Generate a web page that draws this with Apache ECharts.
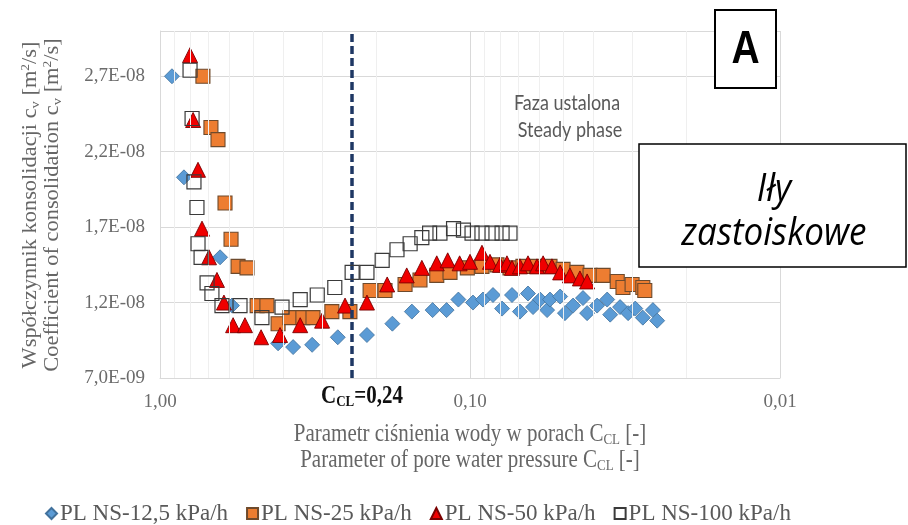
<!DOCTYPE html>
<html>
<head>
<meta charset="utf-8">
<script src="https://cdn.jsdelivr.net/npm/echarts@6/dist/echarts.min.js"></script>
<style>html,body{margin:0;padding:0;background:#fff}#c{width:908px;height:525px}</style>
</head>
<body>
<div id="c"></div>
<script>
// Series: [C_CL, cv]
const seriesNames = ['PL NS-12,5 kPa/h', 'PL NS-25 kPa/h', 'PL NS-50 kPa/h', 'PL NS-100 kPa/h'];

const ns125 = [[0.915,2.70e-8],[0.837,2.03e-8],[0.640,1.50e-8],[0.586,1.18e-8],[0.416,9.3e-9],[0.372,9.05e-9],[0.323,9.2e-9],[0.267,9.7e-9],[0.215,9.85e-9],[0.178,1.06e-8],[0.154,1.14e-8],[0.132,1.15e-8],[0.119,1.15e-8],[0.109,1.22e-8],[0.0978,1.20e-8],[0.0908,1.22e-8],[0.0843,1.25e-8],[0.0788,1.16e-8],[0.0732,1.25e-8],[0.0690,1.14e-8],[0.0650,1.26e-8],[0.0626,1.17e-8],[0.0594,1.22e-8],[0.0564,1.15e-8],[0.0552,1.22e-8],[0.0512,1.24e-8],[0.0494,1.13e-8],[0.0465,1.18e-8],[0.0432,1.23e-8],[0.0419,1.13e-8],[0.0389,1.18e-8],[0.0361,1.22e-8],[0.0353,1.12e-8],[0.0328,1.17e-8],[0.0309,1.13e-8],[0.0293,1.16e-8],[0.0277,1.10e-8],[0.0257,1.15e-8],[0.0249,1.08e-8]];

const ns25 = [[0.727,2.70e-8],[0.685,2.36e-8],[0.650,2.28e-8],[0.617,1.86e-8],[0.590,1.62e-8],[0.560,1.44e-8],[0.524,1.43e-8],[0.486,1.18e-8],[0.452,1.18e-8],[0.416,1.06e-8],[0.381,1.10e-8],[0.346,1.10e-8],[0.321,1.10e-8],[0.279,1.14e-8],[0.244,1.14e-8],[0.210,1.28e-8],[0.188,1.28e-8],[0.162,1.32e-8],[0.145,1.35e-8],[0.128,1.38e-8],[0.116,1.40e-8],[0.102,1.43e-8],[0.0915,1.44e-8],[0.0818,1.45e-8],[0.0743,1.43e-8],[0.0675,1.44e-8],[0.0608,1.44e-8],[0.0552,1.44e-8],[0.0501,1.42e-8],[0.0452,1.40e-8],[0.0410,1.38e-8],[0.0372,1.38e-8],[0.0335,1.34e-8],[0.0321,1.30e-8],[0.0300,1.32e-8],[0.0277,1.30e-8],[0.0273,1.28e-8]];

const ns50 = [[0.800,2.84e-8],[0.782,2.41e-8],[0.754,2.08e-8],[0.732,1.69e-8],[0.695,1.50e-8],[0.655,1.35e-8],[0.622,1.20e-8],[0.581,1.05e-8],[0.532,1.05e-8],[0.472,9.7e-9],[0.410,9.85e-9],[0.353,1.05e-8],[0.300,1.08e-8],[0.253,1.18e-8],[0.215,1.20e-8],[0.185,1.32e-8],[0.160,1.38e-8],[0.143,1.43e-8],[0.128,1.46e-8],[0.118,1.48e-8],[0.108,1.46e-8],[0.100,1.47e-8],[0.0915,1.53e-8],[0.0862,1.47e-8],[0.0800,1.45e-8],[0.0760,1.46e-8],[0.0732,1.43e-8],[0.0690,1.44e-8],[0.0650,1.46e-8],[0.0608,1.44e-8],[0.0581,1.46e-8],[0.0544,1.44e-8],[0.0512,1.40e-8],[0.0476,1.38e-8],[0.0442,1.36e-8],[0.0419,1.34e-8]];

const ns100 = [[0.800,2.74e-8],[0.788,2.42e-8],[0.777,2.00e-8],[0.760,1.83e-8],[0.754,1.59e-8],[0.737,1.50e-8],[0.705,1.33e-8],[0.680,1.26e-8],[0.631,1.18e-8],[0.552,1.18e-8],[0.469,1.10e-8],[0.404,1.17e-8],[0.353,1.22e-8],[0.311,1.25e-8],[0.273,1.30e-8],[0.240,1.40e-8],[0.215,1.40e-8],[0.192,1.48e-8],[0.172,1.55e-8],[0.156,1.59e-8],[0.143,1.63e-8],[0.135,1.66e-8],[0.125,1.66e-8],[0.113,1.69e-8],[0.105,1.68e-8],[0.0985,1.66e-8],[0.0915,1.66e-8],[0.0849,1.66e-8],[0.0788,1.66e-8],[0.0743,1.66e-8]];

const cclThreshold = 0.24;
const xMin = 0.01, xMax = 1;
const yMin = 7e-9, yMax = 3e-8, yStep = 5e-9;
const minorGridX = [0.02,0.03,0.04,0.05,0.06,0.07,0.08,0.09,0.2,0.3,0.4,0.5,0.6,0.7,0.8,0.9];

function fmtY(v) {
  const s = v.toExponential(1).split('e');
  const n = parseInt(s[1], 10);
  return s[0].replace('.', ',') + 'E' + (n < 0 ? '-' : '+') + String(Math.abs(n)).padStart(2, '0');
}
function fmtX(v) { return v.toFixed(2).replace('.', ','); }

const serif = '"Liberation Serif", "Times New Roman", serif';
const chart = echarts.init(document.getElementById('c'), null, {renderer: 'canvas'});

const subRich = {
  sub: {fontSize: 13, fontFamily: serif, fill: '#666', verticalAlign: 'bottom', lineHeight: 22},
  sup: {fontSize: 12, fontFamily: serif, fill: '#666', verticalAlign: 'top', lineHeight: 22}
};

chart.setOption({
  animation: false,
  backgroundColor: '#ffffff',
  grid: {left: 160, right: 128, top: 31, bottom: 147},
  xAxis: {
    type: 'log', logBase: 10, min: xMin, max: xMax, inverse: true,
    axisLine: {show: true, lineStyle: {color: '#D9D9D9', width: 1}},
    axisTick: {show: false},
    axisLabel: {formatter: fmtX, color: '#6b6b6b', fontFamily: serif, fontSize: 19, margin: 15},
    splitLine: {show: true, lineStyle: {color: '#D9D9D9', width: 1}},
    minorTick: {show: false}, minorSplitLine: {show: false}
  },
  yAxis: {
    type: 'value', min: yMin, max: yMax, interval: yStep,
    axisLine: {show: true, lineStyle: {color: '#D9D9D9', width: 1}},
    axisTick: {show: false},
    axisLabel: {formatter: fmtY, color: '#6b6b6b', fontFamily: serif, fontSize: 19, margin: 15, showMaxLabel: false},
    splitLine: {show: true, lineStyle: {color: '#D9D9D9', width: 1}}
  },
  legend: {
    data: seriesNames, left: 40, top: 497, itemWidth: 11, itemHeight: 11, itemGap: 18,
    textStyle: {fontFamily: serif, fontSize: 23, color: '#595959', padding: [0,0,0,-2]}
  },
  series: [
    {name: '_minorgrid', type: 'scatter', data: [], silent: true, z: 0,
     markLine: {silent: true, symbol: 'none', label: {show: false},
       lineStyle: {type: 'solid', color: '#EFEFEF', width: 1},
       data: minorGridX.map(v => ({xAxis: v}))}},
    {name: seriesNames[0], type: 'scatter', data: ns125, symbol: 'diamond', symbolSize: 15, z: 2,
     itemStyle: {color: '#5B9BD5', borderColor: '#41719C', borderWidth: 0.8, opacity: 1}},
    {name: seriesNames[1], type: 'scatter', data: ns25, symbol: 'rect', symbolSize: 14, z: 3,
     itemStyle: {color: '#ED7D31', borderColor: '#6E4A2C', borderWidth: 1.1, opacity: 1}},
    {name: seriesNames[2], type: 'scatter', data: ns50, symbol: 'triangle', symbolSize: 15, z: 4,
     itemStyle: {color: '#F00000', borderColor: '#7A0000', borderWidth: 0.9, opacity: 1}},
    {name: seriesNames[3], type: 'scatter', data: ns100, symbol: 'rect', symbolSize: 14, z: 5,
     itemStyle: {color: 'rgba(255,255,255,0)', borderColor: '#3A3A3A', borderWidth: 1.2, opacity: 1}},
    {name: '_ccl', type: 'scatter', data: [], silent: true, z: 6,
     markLine: {silent: true, symbol: 'none', label: {show: false},
       lineStyle: {type: [8, 4], color: '#1F3864', width: 3.5},
       data: [{xAxis: cclThreshold}]}}
  ],
  graphic: [
    // y-axis title (two lines, rotated)
    {type: 'text', x: 31, y: 205, rotation: Math.PI / 2, scaleX: 1.12, z: 10, silent: true,
     style: {text: 'Współczynnik konsolidacji c{sub|v} [m{sup|2}/s]', fontFamily: serif, fontSize: 20, fill: '#666',
       align: 'center', verticalAlign: 'middle', rich: subRich}},
    {type: 'text', x: 53, y: 205, rotation: Math.PI / 2, scaleX: 1.12, z: 10, silent: true,
     style: {text: 'Coefficient of consolidation c{sub|v} [m{sup|2}/s]', fontFamily: serif, fontSize: 20, fill: '#666',
       align: 'center', verticalAlign: 'middle', rich: subRich}},
    // x-axis title
    {type: 'text', x: 470, y: 434, scaleY: 1.2, z: 10, silent: true,
     style: {text: 'Parametr ciśnienia wody w porach C{sub|CL} [-]', fontFamily: serif, fontSize: 21, fill: '#666',
       align: 'center', verticalAlign: 'middle', rich: subRich}},
    {type: 'text', x: 470, y: 460, scaleY: 1.2, z: 10, silent: true,
     style: {text: 'Parameter of pore water pressure C{sub|CL} [-]', fontFamily: serif, fontSize: 21, fill: '#666',
       align: 'center', verticalAlign: 'middle', rich: subRich}},
    // C_CL label
    {type: 'text', x: 362, y: 397, scaleY: 1.15, z: 10, silent: true,
     style: {text: 'C{s|CL}=0,24', fontFamily: serif, fontSize: 21, fontWeight: 'bold', fill: '#111',
       align: 'center', verticalAlign: 'middle',
       rich: {s: {fontSize: 13, fontFamily: serif, fontWeight: 'bold', fill: '#111', verticalAlign: 'bottom', lineHeight: 22}}}},
    // Steady phase annotation
    {type: 'text', x: 567, y: 103, scaleY: 1.15, z: 10, silent: true,
     style: {text: 'Faza ustalona', fontFamily: 'Lato, "Open Sans", sans-serif', fontSize: 18, fill: '#595959',
       align: 'center', verticalAlign: 'middle'}},
    {type: 'text', x: 570, y: 130, scaleY: 1.15, z: 10, silent: true,
     style: {text: 'Steady phase', fontFamily: 'Lato, "Open Sans", sans-serif', fontSize: 18, fill: '#595959',
       align: 'center', verticalAlign: 'middle'}},
    // "A" box
    {type: 'rect', z: 10, silent: true, shape: {x: 715, y: 10, width: 61, height: 78},
     style: {fill: '#fff', stroke: '#000', lineWidth: 2}},
    {type: 'text', x: 745.5, y: 50, scaleY: 1.2, z: 11, silent: true,
     style: {text: 'A', fontFamily: '"Liberation Sans", Arial, sans-serif', fontSize: 39, fontWeight: 'bold', fill: '#000',
       align: 'center', verticalAlign: 'middle'}},
    // soil type box
    {type: 'rect', z: 10, silent: true, shape: {x: 639, y: 144, width: 267, height: 123},
     style: {fill: '#fff', stroke: '#000', lineWidth: 1.5}},
    {type: 'text', x: 774, y: 190, scaleY: 1.12, z: 11, silent: true,
     style: {text: 'Iły', fontFamily: '"Open Sans", "Noto Sans", sans-serif', fontSize: 35, fontStyle: 'italic', fill: '#000',
       align: 'center', verticalAlign: 'middle'}},
    {type: 'text', x: 774, y: 234, scaleY: 1.12, z: 11, silent: true,
     style: {text: 'zastoiskowe', fontFamily: '"Open Sans", "Noto Sans", sans-serif', fontSize: 35, fontStyle: 'italic', fill: '#000',
       align: 'center', verticalAlign: 'middle'}}
  ]
});
</script>
</body>
</html>
